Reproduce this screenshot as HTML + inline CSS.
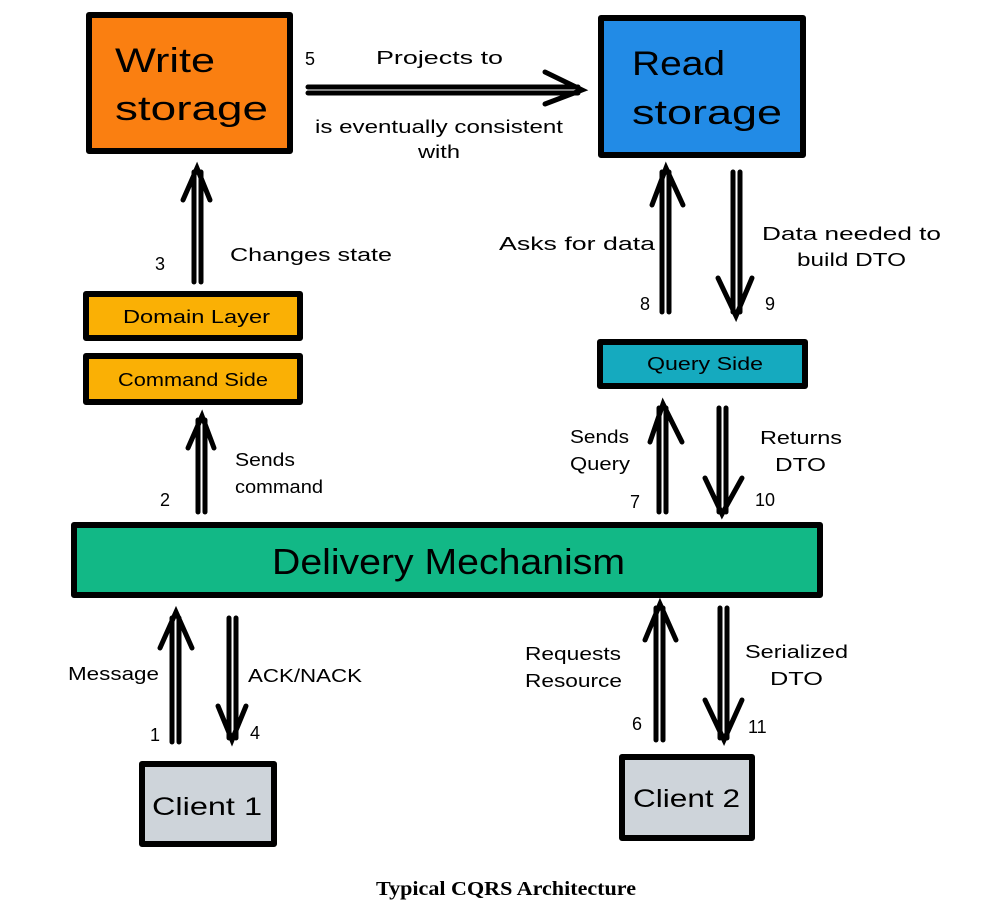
<!DOCTYPE html>
<html><head><meta charset="utf-8"><style>
html,body{margin:0;padding:0;background:#fff;}
svg{display:block}
text{font-family:"Liberation Sans",sans-serif;fill:#000}
.l{font-size:18px}
.b{font-size:34px}
</style></head><body>
<svg width="1001" height="923" viewBox="0 0 1001 923" xmlns="http://www.w3.org/2000/svg">
<g stroke="#000" stroke-width="6" stroke-linejoin="round">
<rect x="89" y="15" width="201" height="136" fill="#FA7F11"/>
<rect x="601" y="18" width="202" height="137" fill="#228BE6"/>
<rect x="86" y="294" width="214" height="44" fill="#FAB005"/>
<rect x="86" y="356" width="214" height="46" fill="#FAB005"/>
<rect x="600" y="342" width="205" height="44" fill="#15AABF"/>
<rect x="74" y="525" width="746" height="70" fill="#12B886"/>
<rect x="142" y="764" width="132" height="80" fill="#CED4DA"/>
<rect x="622" y="757" width="130" height="81" fill="#CED4DA"/>
</g>
<g stroke="#000" stroke-width="5" fill="none" stroke-linecap="round">
<line x1="308" y1="87" x2="578" y2="87"/><line x1="308" y1="93" x2="578" y2="93"/>
<path d="M545 72 L582 90 L545 104"/>
<line x1="194" y1="282" x2="194" y2="172"/><line x1="201" y1="282" x2="201" y2="172"/>
<path d="M183 200 L197 168 L210 200"/>
<line x1="198" y1="512" x2="198" y2="420"/><line x1="205" y1="512" x2="205" y2="420"/>
<path d="M188 448 L202 416 L214 448"/>
<line x1="662" y1="312" x2="662" y2="172"/><line x1="669" y1="312" x2="669" y2="172"/>
<path d="M652 205 L666 168 L683 205"/>
<line x1="733" y1="172" x2="733" y2="312"/><line x1="740" y1="172" x2="740" y2="312"/>
<path d="M718 278 L736 316 L752 278"/>
<line x1="659" y1="512" x2="659" y2="408"/><line x1="666" y1="512" x2="666" y2="408"/>
<path d="M650 442 L663 404 L682 442"/>
<line x1="719" y1="408" x2="719" y2="512"/><line x1="726" y1="408" x2="726" y2="512"/>
<path d="M705 478 L722 514 L742 478"/>
<line x1="172" y1="742" x2="172" y2="618"/><line x1="179" y1="742" x2="179" y2="618"/>
<path d="M160 648 L176 612 L192 648"/>
<line x1="229" y1="618" x2="229" y2="738"/><line x1="236" y1="618" x2="236" y2="738"/>
<path d="M218 706 L232 740 L246 706"/>
<line x1="656" y1="740" x2="656" y2="608"/><line x1="663" y1="740" x2="663" y2="608"/>
<path d="M645 640 L660 604 L676 640"/>
<line x1="720" y1="608" x2="720" y2="738"/><line x1="727" y1="608" x2="727" y2="738"/>
<path d="M705 700 L724 740 L742 700"/>
</g>
<g lengthAdjust="spacingAndGlyphs">
<text class="b" x="115" y="72" textLength="100" lengthAdjust="spacingAndGlyphs">Write</text>
<text class="b" x="115" y="120" textLength="153" lengthAdjust="spacingAndGlyphs">storage</text>
<text class="b" x="632" y="75" textLength="93" lengthAdjust="spacingAndGlyphs">Read</text>
<text class="b" x="632" y="124" textLength="150" lengthAdjust="spacingAndGlyphs">storage</text>
<text class="l" x="123" y="323" textLength="147" lengthAdjust="spacingAndGlyphs">Domain Layer</text>
<text class="l" x="118" y="386" textLength="150" lengthAdjust="spacingAndGlyphs">Command Side</text>
<text class="l" x="647" y="370" textLength="116" lengthAdjust="spacingAndGlyphs">Query Side</text>
<text x="272" y="574" style="font-size:36px" textLength="353" lengthAdjust="spacingAndGlyphs">Delivery Mechanism</text>
<text x="152" y="815" style="font-size:25px" textLength="110" lengthAdjust="spacingAndGlyphs">Client 1</text>
<text x="633" y="807" style="font-size:25px" textLength="107" lengthAdjust="spacingAndGlyphs">Client 2</text>
<text class="l" x="305" y="65">5</text>
<text class="l" x="376" y="64" textLength="127" lengthAdjust="spacingAndGlyphs">Projects to</text>
<text class="l" x="315" y="133" textLength="248" lengthAdjust="spacingAndGlyphs">is eventually consistent</text>
<text class="l" x="418" y="158" textLength="42" lengthAdjust="spacingAndGlyphs">with</text>
<text class="l" x="155" y="270">3</text>
<text class="l" x="230" y="261" textLength="162" lengthAdjust="spacingAndGlyphs">Changes state</text>
<text class="l" x="499" y="250" textLength="156" lengthAdjust="spacingAndGlyphs">Asks for data</text>
<text class="l" x="762" y="240" textLength="179" lengthAdjust="spacingAndGlyphs">Data needed to</text>
<text class="l" x="797" y="266" textLength="109" lengthAdjust="spacingAndGlyphs">build DTO</text>
<text class="l" x="640" y="310">8</text>
<text class="l" x="765" y="310">9</text>
<text class="l" x="235" y="466" textLength="60" lengthAdjust="spacingAndGlyphs">Sends</text>
<text class="l" x="235" y="493" textLength="88" lengthAdjust="spacingAndGlyphs">command</text>
<text class="l" x="160" y="506">2</text>
<text class="l" x="570" y="443" textLength="59" lengthAdjust="spacingAndGlyphs">Sends</text>
<text class="l" x="570" y="470" textLength="60" lengthAdjust="spacingAndGlyphs">Query</text>
<text class="l" x="760" y="444" textLength="82" lengthAdjust="spacingAndGlyphs">Returns</text>
<text class="l" x="775" y="471" textLength="51" lengthAdjust="spacingAndGlyphs">DTO</text>
<text class="l" x="630" y="508">7</text>
<text class="l" x="755" y="506">10</text>
<text class="l" x="68" y="680" textLength="91" lengthAdjust="spacingAndGlyphs">Message</text>
<text class="l" x="248" y="682" textLength="114" lengthAdjust="spacingAndGlyphs">ACK/NACK</text>
<text class="l" x="150" y="741">1</text>
<text class="l" x="250" y="739">4</text>
<text class="l" x="525" y="660" textLength="96" lengthAdjust="spacingAndGlyphs">Requests</text>
<text class="l" x="525" y="687" textLength="97" lengthAdjust="spacingAndGlyphs">Resource</text>
<text class="l" x="745" y="658" textLength="103" lengthAdjust="spacingAndGlyphs">Serialized</text>
<text class="l" x="770" y="685" textLength="53" lengthAdjust="spacingAndGlyphs">DTO</text>
<text class="l" x="632" y="730">6</text>
<text class="l" x="748" y="733">11</text>
<text x="376" y="895" style="font-family:'Liberation Serif',serif;font-weight:bold;font-size:20px" textLength="260" lengthAdjust="spacingAndGlyphs">Typical CQRS Architecture</text>
</g>
</svg>
</body></html>
